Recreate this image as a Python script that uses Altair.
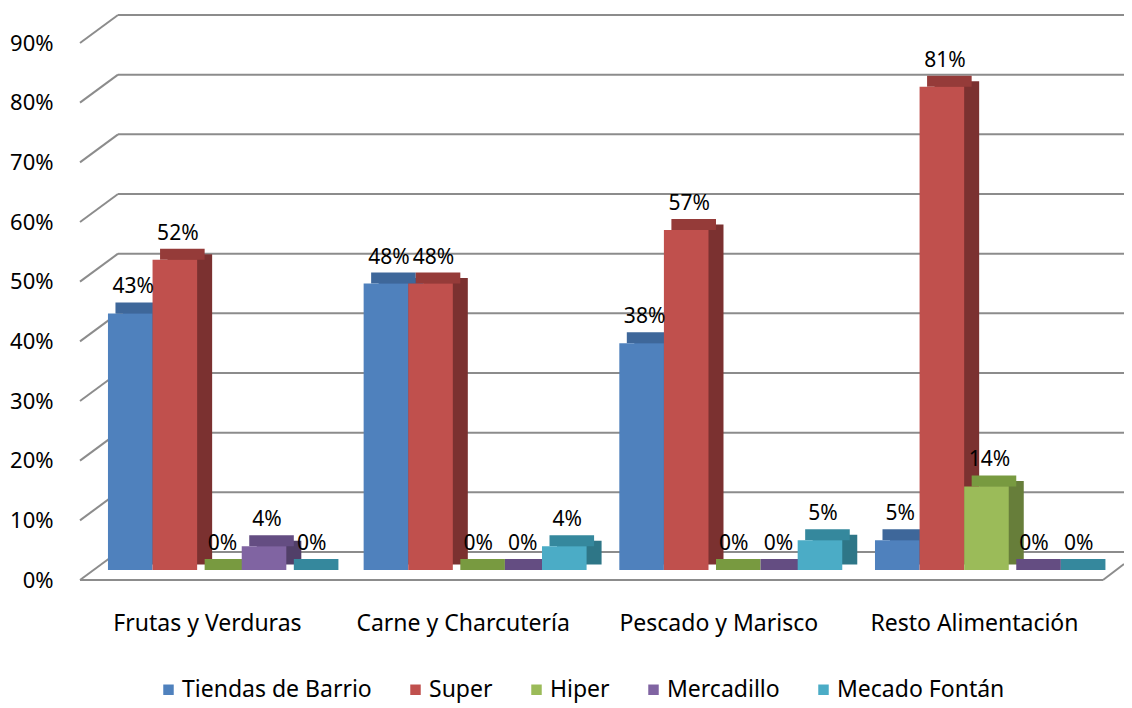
import altair as alt
import pandas as pd

categories = ["Frutas y Verduras", "Carne y Charcutería", "Pescado y Marisco", "Resto Alimentación"]
series = ["Tiendas de Barrio", "Super", "Hiper", "Mercadillo", "Mecado Fontán"]
tiendas = [0.43, 0.48, 0.38, 0.05]
super_ = [0.52, 0.48, 0.57, 0.81]
hiper = [0.0, 0.0, 0.0, 0.14]
mercadillo = [0.04, 0.0, 0.0, 0.0]
fontan = [0.0, 0.04, 0.05, 0.0]
ticks = [0.0, 0.1, 0.2, 0.3, 0.4, 0.5, 0.6, 0.7, 0.8, 0.9]

front_colors = ["#4F81BD", "#C0504D", "#9BBB59", "#8064A2", "#4BACC6"]
top_colors = ["#3E679A", "#953B39", "#789A40", "#644D82", "#35889D"]
side_colors = ["#36598A", "#7B3130", "#677E3A", "#513F68", "#2E7687"]

values = [tiendas, super_, hiper, mercadillo, fontan]
rows = []
for s, vals in zip(series, values):
    for c, v in zip(categories, vals):
        rows.append({"cat": c, "series": s, "value": v})
df = pd.DataFrame(rows)
tdf = pd.DataFrame({"v": ticks})
zdf = pd.DataFrame({"v": [0.0]})

FONT = "Noto Sans"
W, H = 1044, 537
GRID = "#8C8C8C"
X0, X1 = 11.6, 1034.3   # band range of the bar front plane
DEPTH_X, DEPTH_Y = 15, 11

yscale = alt.Scale(domain=[0, 0.9], nice=False, zero=True)
yaxis = alt.Axis(values=ticks, format=".0%", title=None, domain=False, ticks=False, grid=False,
                 labelFontSize=22, labelColor="#000000", labelPadding=27, labelOffset=10, labelFont=FONT)
xaxis = alt.Axis(title=None, domain=False, ticks=False, labelAngle=0, labelFontSize=23, labelColor="#000000",
                 labelPadding=42, labelOffset=-12, labelFont=FONT, labelLimit=400)


def X(shift=0.0, axis=None):
    sc = alt.Scale(domain=categories, range=[X0 + shift, X1 + shift], paddingInner=0.128, paddingOuter=0.064)
    if axis is None:
        return alt.X("cat:N", scale=sc, axis=None, sort=categories)
    return alt.X("cat:N", scale=sc, axis=axis, sort=categories)


def XO():
    return alt.XOffset("series:N", sort=series)


def Yv(field):
    return alt.Y(field, scale=yscale, axis=yaxis)


back_grid = alt.Chart(tdf).mark_rule(color=GRID, strokeWidth=2, yOffset=-18).encode(
    x=alt.value(38), x2=alt.value(W), y=Yv("v:Q"))

diag = alt.Chart(tdf).mark_rule(color=GRID, strokeWidth=2, yOffset=10, y2Offset=-18).encode(
    x=alt.value(0), x2=alt.value(38), y=Yv("v:Q"), y2="v:Q")

floor_front = alt.Chart(zdf).mark_rule(color=GRID, strokeWidth=2, yOffset=10).encode(
    x=alt.value(0), x2=alt.value(1023), y=Yv("v:Q"))

floor_right = alt.Chart(zdf).mark_rule(color=GRID, strokeWidth=2, yOffset=10, y2Offset=-6).encode(
    x=alt.value(1023), x2=alt.value(W), y=Yv("v:Q"), y2="v:Q")

side = alt.Chart(df).mark_bar(yOffset=-DEPTH_Y / 2, y2Offset=-DEPTH_Y / 2).encode(
    x=X(DEPTH_X), xOffset=XO(), y=Yv("value:Q"), y2=alt.datum(0),
    color=alt.Color("series:N", sort=series, scale=alt.Scale(domain=series, range=side_colors), legend=None))

top = alt.Chart(df).mark_bar(yOffset=-DEPTH_Y, y2Offset=0).encode(
    x=X(DEPTH_X / 2), xOffset=XO(), y=Yv("value:Q"), y2="value:Q",
    color=alt.Color("series:N", sort=series, scale=alt.Scale(domain=series, range=top_colors), legend=None))

front = alt.Chart(df).mark_bar().encode(
    x=X(0, xaxis), xOffset=XO(), y=Yv("value:Q"),
    color=alt.Color("series:N", sort=series, scale=alt.Scale(domain=series, range=front_colors),
                    legend=alt.Legend(orient="none", legendX=77, legendY=645, direction="horizontal",
                                      title=None, symbolType="square", symbolSize=110,
                                      labelFontSize=23, labelFont=FONT, labelColor="#000000",
                                      columnPadding=32, labelOffset=2, symbolStrokeWidth=0,
                                      labelLimit=400)))

labels = alt.Chart(df).mark_text(dy=-26, dx=3, fontSize=21, font=FONT, color="#000000").encode(
    x=X(0), xOffset=XO(), y=Yv("value:Q"), text=alt.Text("value:Q", format=".0%"))

chart = alt.layer(back_grid, diag, floor_front, floor_right, side, top, front, labels).resolve_scale(
    x="independent", xOffset="independent", color="independent").properties(
    width=W, height=H,
    padding={"left": 72, "top": 25, "right": 0, "bottom": 136},
    autosize=alt.AutoSizeParams(type="none"),
).configure_view(stroke=None)

chart.save("out.html", embed_options={"renderer": "svg", "actions": False})
